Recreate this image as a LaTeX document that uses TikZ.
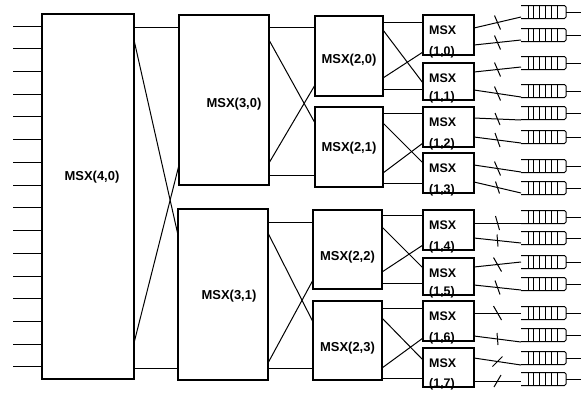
\documentclass[tikz,border=0pt]{standalone}
\usepackage{fontspec}
\setmainfont{Liberation Sans}
\usetikzlibrary{calc}
\tikzset{
  boxst/.style={draw, line width=1.1bp, inner sep=0pt, outer sep=0pt},
  wire/.style={line width=1bp},
  lbl/.style={font=\fontsize{13}{13}\selectfont\bfseries, inner sep=0pt},
  slbl/.style={font=\fontsize{12.5}{12.5}\selectfont\bfseries, inner sep=0pt, anchor=west},
  qnode/.style={minimum width=45bp, minimum height=13bp, inner sep=0pt, outer sep=0pt},
  qline/.style={line width=1bp, rounded corners=1.5bp},
}
\newcommand\mkbox[5]{\node[boxst, minimum width={(#4-#2)*1bp}, minimum height={(#5-#3)*1bp}] (#1) at ({(#2+#4)/2},{(#3+#5)/2}) {};}
\begin{document}
\begin{tikzpicture}[x=1bp,y=-1bp]
\useasboundingbox (0,0) rectangle (581,395);
% boxes
\mkbox{b40}{42}{14}{134}{379}
\mkbox{b30}{179}{15}{269}{185}
\mkbox{b31}{178}{209}{268}{380}
\mkbox{b20}{315}{16}{383}{96}
\mkbox{b21}{315}{107}{383}{187}
\mkbox{b22}{313}{210}{382}{289}
\mkbox{b23}{313}{301}{382}{380}
\mkbox{b10}{423}{15}{474}{55}
\mkbox{b11}{423}{63}{474}{100}
\mkbox{b12}{423}{107}{474}{147}
\mkbox{b13}{423}{153}{474}{193}
\mkbox{b14}{423}{210}{474}{250}
\mkbox{b15}{423}{258}{474}{295}
\mkbox{b16}{423}{301}{474}{341}
\mkbox{b17}{423}{348}{474}{387}
% labels
\node[lbl] at ([shift={(4,-19)}]b40.center) {MSX(4,0)};
\node[lbl] at ([shift={(10,4)}]b30.center) {MSX(3,0)};
\node[lbl] at ([shift={(6,2)}]b31.center) {MSX(3,1)};
\node[lbl] at ([shift={(0,4)}]b20.center) {MSX(2,0)};
\node[lbl] at ([shift={(0,1)}]b21.center) {MSX(2,1)};
\node[lbl] at ([shift={(0,8)}]b22.center) {MSX(2,2)};
\node[lbl] at ([shift={(0,8)}]b23.center) {MSX(2,3)};
\foreach \k in {0,...,7}{
  \node[slbl] at ([shift={(6,15)}]b1\k.north west) {MSX};
  \node[slbl] at ([shift={(6,-3)}]b1\k.south west) {(1,\k)};
}
% inputs
\foreach \i in {0,...,15}{
  \coordinate (in\i) at (13,{26+\i*22.73});
  \draw[wire] (in\i) -- (b40.west |- in\i);
}
% stage 4 -> 3
\draw[wire] (b40.east |- 0,27) -- (b30.west |- 0,27);
\draw[wire] (b40.east |- 0,40) -- (b31.west |- 0,235);
\draw[wire] (b40.east |- 0,343) -- (b30.west |- 0,165);
\draw[wire] (b40.east |- 0,368) -- (b31.west |- 0,368);
% stage 3 -> 2
\draw[wire] (b30.east |- 0,27) -- (b20.west |- 0,27);
\draw[wire] (b30.east |- 0,40) -- (b21.west |- 0,123);
\draw[wire] (b30.east |- 0,163) -- (b20.west |- 0,85);
\draw[wire] (b30.east |- 0,175) -- (b21.west |- 0,175);
\draw[wire] (b31.east |- 0,222) -- (b22.west |- 0,222);
\draw[wire] (b31.east |- 0,233) -- (b23.west |- 0,322);
\draw[wire] (b31.east |- 0,363) -- (b22.west |- 0,280);
\draw[wire] (b31.east |- 0,368) -- (b23.west |- 0,368);
% stage 2 -> 1
\draw[wire] (b20.east |- 0,22) -- (b10.west |- 0,22);
\draw[wire] (b20.east |- 0,30) -- (b11.west |- 0,83);
\draw[wire] (b20.east |- 0,78) -- (b10.west |- 0,52);
\draw[wire] (b20.east |- 0,89) -- (b11.west |- 0,89);
\draw[wire] (b21.east |- 0,113) -- (b12.west |- 0,113);
\draw[wire] (b21.east |- 0,123) -- (b13.west |- 0,163);
\draw[wire] (b21.east |- 0,173) -- (b12.west |- 0,143);
\draw[wire] (b21.east |- 0,183) -- (b13.west |- 0,183);
\draw[wire] (b22.east |- 0,215) -- (b14.west |- 0,215);
\draw[wire] (b22.east |- 0,227) -- (b15.west |- 0,268);
\draw[wire] (b22.east |- 0,272) -- (b14.west |- 0,245);
\draw[wire] (b22.east |- 0,283) -- (b15.west |- 0,283);
\draw[wire] (b23.east |- 0,308) -- (b16.west |- 0,308);
\draw[wire] (b23.east |- 0,318) -- (b17.west |- 0,360);
\draw[wire] (b23.east |- 0,368) -- (b16.west |- 0,338);
\draw[wire] (b23.east |- 0,378) -- (b17.west |- 0,378);
% queues
\foreach \y [count=\i] in {12,35,63,91,113,137,166,188,217,238,262,284,313,335,358,379}{
  \node[qnode] (q\i) at (543.5,\y) {};
  \draw[qline] (q\i.north west) -- (q\i.north east) -- (q\i.south east) -- (q\i.south west);
  \foreach \k in {0,...,5}{
    \draw[wire] ([xshift={(7+\k*5.8)*1bp}]q\i.north west) -- ([xshift={(7+\k*5.8)*1bp}]q\i.south west);
  }
  \coordinate (o\i) at (581,\y);
  \draw[wire] (q\i.east) -- (o\i);
}
% stage 1 -> queues with ticks
\foreach \bx/\ya/\yb/\tx/\ty [count=\i] in {
  10/28/17/3/7, 10/45/40/3/7, 11/72/67/3/7, 11/90/97/3/7,
  12/118/120/2.5/6, 12/137/143/2.5/7, 13/165/172/3/7, 13/182/193/2/6,
  14/223/223/2/7, 14/238/243/0.5/6, 15/267/262/4/7, 15/285/290/2.5/7,
  16/313/313/4/7, 16/336/342/0.5/6, 17/358/365/-5/5, 17/381/381/-3.5/6}{
  \draw[wire] (b\bx.east |- 0,\ya) -- coordinate[pos=0.5] (m\i) (q\i.west |- 0,\yb);
  \draw[wire] ([shift={(-\tx,-\ty)}]m\i) -- ([shift={(\tx,\ty)}]m\i);
}
\end{tikzpicture}
\end{document}
